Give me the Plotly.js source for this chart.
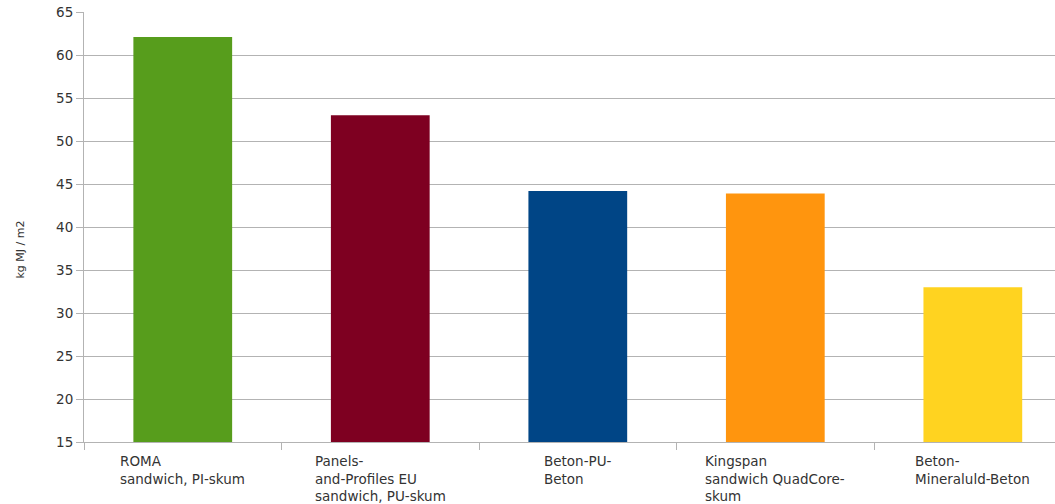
<!DOCTYPE html>
<html>
<head>
<meta charset="utf-8">
<script src="https://cdn.plot.ly/plotly-3.0.1.min.js"></script>
<style>html,body{margin:0;padding:0;background:#fff;}#chart{width:1055px;height:504px;}</style>
</head>
<body>
<div id="chart"></div>
<script>
const categories = ["ROMA", "Panels", "Beton-PU", "Kingspan", "Mineraluld"];
const categoryLabels = [
  "ROMA<br>sandwich, PI-skum",
  "Panels-<br>and-Profiles EU<br>sandwich, PU-skum",
  "Beton-PU-<br>Beton",
  "Kingspan<br>sandwich QuadCore-<br>skum",
  "Beton-<br>Mineraluld-Beton"
];
const values = [62.1, 53.0, 44.2, 43.9, 33.0];
const barColors = ["#579d1c", "#7e0021", "#004586", "#ff950e", "#ffd320"];
const yTicks = [15, 20, 25, 30, 35, 40, 45, 50, 55, 60, 65];
const yTitle = "kg MJ / m2";
const yBase = 15;

const family = "DejaVu Sans, Liberation Sans, Arial, sans-serif";
const font = {family: family, size: 13.5, color: "#333333"};

const trace = {
  type: "bar",
  x: categories,
  y: values.map(v => v - yBase),
  base: yBase,
  marker: {color: barColors, line: {width: 0}},
  hoverinfo: "skip"
};

const annotations = categories.map((c, i) => ({
  x: c, xref: "x", y: 0, yref: "paper",
  yanchor: "top", xanchor: "center", yshift: -9,
  text: categoryLabels[i], align: "left", showarrow: false,
  font: font
}));
// y-axis title (placed as rotated text, centred on the figure height like the original)
annotations.push({
  x: -0.0659, xref: "paper", y: 0.4477, yref: "paper",
  xanchor: "center", yanchor: "middle", textangle: -90,
  text: yTitle, showarrow: false,
  font: {family: family, size: 11, color: "#333333"}
});

const layout = {
  width: 1055, height: 504,
  margin: {l: 84, r: 0, t: 12, b: 62},
  paper_bgcolor: "#ffffff", plot_bgcolor: "#ffffff",
  font: font,
  bargap: 0.5,
  showlegend: false,
  xaxis: {
    type: "category",
    range: [-0.5, 4.416],
    showticklabels: false,
    ticks: "outside", tickson: "boundaries", ticklen: 7, tickcolor: "#b3b3b3",
    showgrid: false, zeroline: false,
    showline: true, linecolor: "#b3b3b3", linewidth: 1
  },
  yaxis: {
    range: [15, 65],
    tickvals: yTicks,
    ticks: "outside", ticklen: 7, tickcolor: "#b3b3b3",
    showgrid: true, gridcolor: "#b3b3b3", gridwidth: 1,
    zeroline: false,
    showline: true, linecolor: "#b3b3b3", linewidth: 1,
    tickfont: font
  },
  annotations: annotations
};

Plotly.newPlot("chart", [trace], layout, {displayModeBar: false, staticPlot: true});
</script>
</body>
</html>
